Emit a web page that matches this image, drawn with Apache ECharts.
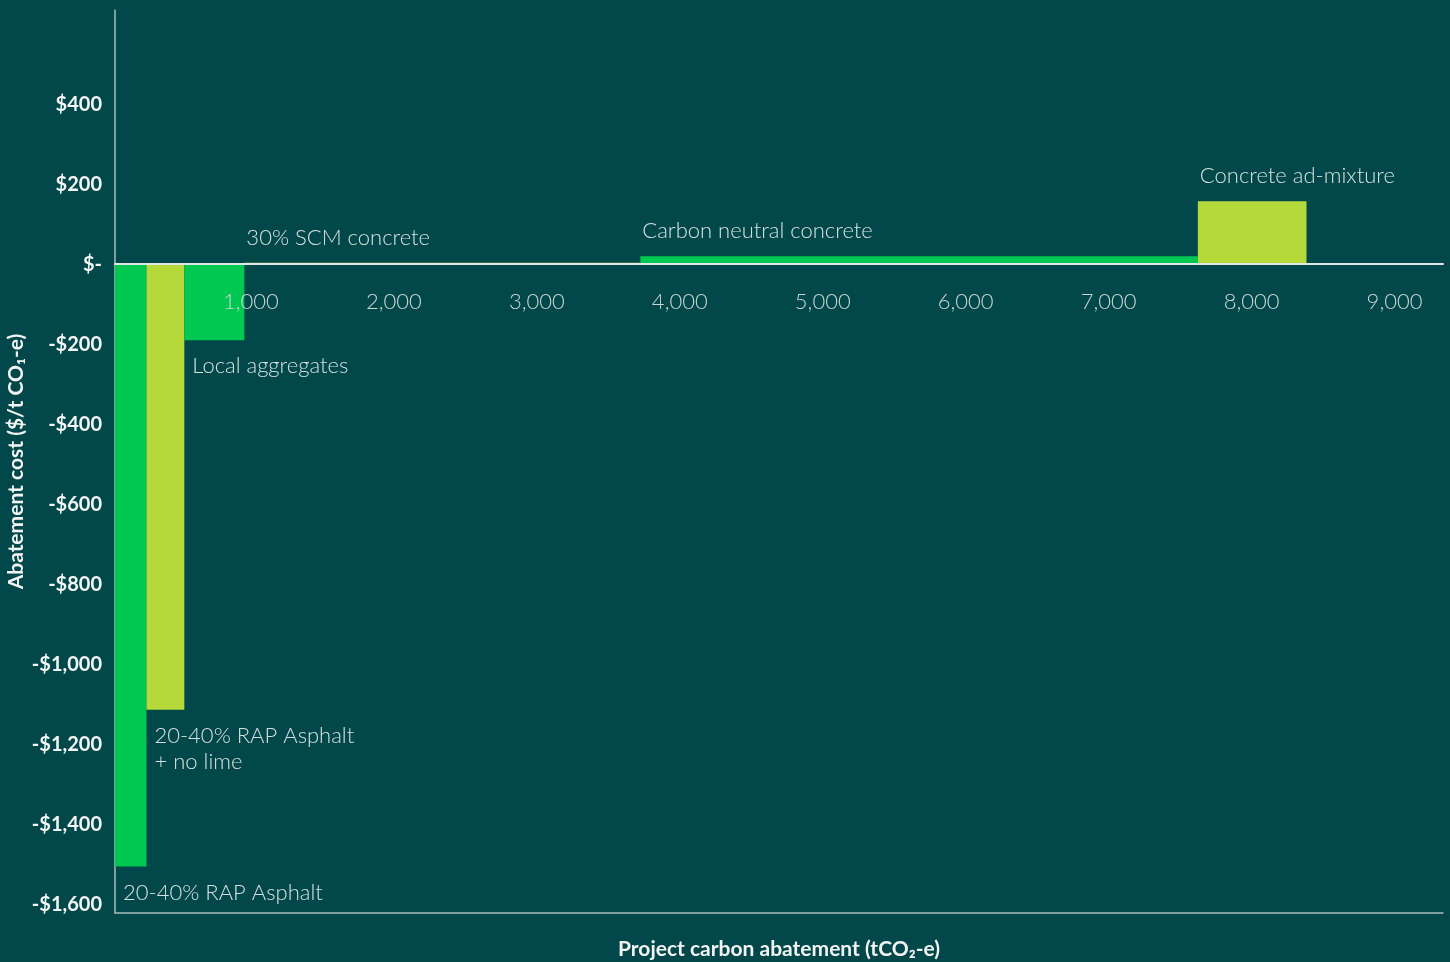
<!DOCTYPE html>
<html>
<head>
<meta charset="utf-8">
<title>Abatement cost curve</title>
<script src="https://cdn.jsdelivr.net/npm/echarts@6/dist/echarts.min.js"></script>
<style>
  html, body { margin: 0; padding: 0; background: #02474a; }
  #chartBox { width: 1450px; height: 962px; }
</style>
</head>
<body>
<div id="chartBox"></div>
<script>
// measures, in order along the curve
var measures = ['20-40% RAP Asphalt', '20-40% RAP Asphalt\n+ no lime', 'Local aggregates', '30% SCM concrete', 'Carbon neutral concrete', 'Concrete ad-mixture'];
// abatement of each measure (tCO2-e) = bar width
var abatement = [220, 265, 420, 2770, 3900, 760];
// abatement cost ($/t) = bar height
var cost = [-1505, -1113, -190, 3, 20, 157];
var barColors = ['#00c851', '#b5d93a', '#00c851', '#b5d93a', '#00c851', '#b5d93a'];
var xTicks = [1000, 2000, 3000, 4000, 5000, 6000, 7000, 8000, 9000];
var yTicks = [-1600, -1400, -1200, -1000, -800, -600, -400, -200, 0, 200, 400];

var font = 'Lato, "Open Sans", sans-serif';
var yMin = -1621, yMax = 635;
var gridTop = 10, gridBottom = 49;

var barData = [];
var start = 0;
for (var i = 0; i < measures.length; i++) {
  barData.push([start, start + abatement[i], cost[i], measures[i]]);
  start += abatement[i];
}

function money(v) {
  if (v === 0) return '$-';
  var s = '$' + Math.abs(v).toLocaleString('en-US');
  return v < 0 ? '-' + s : s;
}

var chart = echarts.init(document.getElementById('chartBox'));
// place the labelled x axis on the zero line (offset from the top edge of the grid)
var plotH = 962 - gridTop - gridBottom;
var zeroOffset = -plotH * yMax / (yMax - yMin);

var option = {
  backgroundColor: '#02474a',
  animation: false,
  grid: { left: 115, right: 7, top: gridTop, bottom: gridBottom, outerBoundsMode: 'none' },
  xAxis: [
    {
      type: 'value',
      position: 'top',
      offset: zeroOffset,
      z: 10,
      min: 0,
      max: 9290,
      axisLine: { onZero: false, lineStyle: { color: '#e2e6e4', width: 2 } },
      axisTick: { show: false },
      splitLine: { show: false },
      axisLabel: {
        inside: true,
        customValues: xTicks,
        margin: 27,
        color: '#c9d8d5',
        fontFamily: font,
        fontWeight: 300,
        fontSize: 22,
        padding: [0, 14, 0, 0],
        formatter: function (v) { return v.toLocaleString('en-US'); }
      }
    },
    {
      type: 'value',
      position: 'bottom',
      min: 0,
      max: 9290,
      axisLine: { onZero: false, lineStyle: { color: '#a9bcb9', width: 1.5 } },
      axisTick: { show: false },
      axisLabel: { show: false },
      splitLine: { show: false },
      name: 'Project carbon abatement (tCO\u2082-e)',
      nameLocation: 'middle',
      nameGap: 26,
      nameTextStyle: { color: '#f2f4f3', fontFamily: font, fontWeight: 'bold', fontSize: 21 }
    }
  ],
  yAxis: {
    type: 'value',
    min: yMin,
    max: yMax,
    axisLine: { show: true, onZero: false, lineStyle: { color: '#a9bcb9', width: 1.5 } },
    axisTick: { show: false },
    splitLine: { show: false },
    axisLabel: {
      customValues: yTicks,
      margin: 13,
      color: '#f4f6f5',
      fontFamily: font,
      fontWeight: 'bold',
      fontSize: 20,
      formatter: money
    },
    name: 'Abatement cost ($/t CO\u2081-e)',
    nameLocation: 'middle',
    nameMoveOverlap: false,
    nameGap: 88,
    nameTextStyle: { color: '#f2f4f3', fontFamily: font, fontWeight: 'bold', fontSize: 21 }
  },
  series: [
    {
      type: 'custom',
      xAxisIndex: 1,
      data: barData,
      encode: { x: [0, 1], y: 2 },
      renderItem: function (params, api) {
        var p0 = api.coord([api.value(0), 0]);
        var p1 = api.coord([api.value(1), api.value(2)]);
        var idx = params.dataIndex;
        var neg = api.value(2) < 0;
        var top = Math.min(p0[1], p1[1]);
        var h = Math.max(Math.abs(p1[1] - p0[1]), 1.5);
        return {
          type: 'group',
          children: [
            {
              type: 'rect',
              shape: { x: p0[0], y: neg ? p0[1] : p0[1] - h, width: p1[0] - p0[0], height: h },
              style: { fill: barColors[idx] }
            },
            {
              type: 'text',
              x: p0[0] + (neg ? 8 : 2),
              y: neg ? p1[1] + 13 : top - 12,
              style: {
                text: measures[idx],
                fill: '#d4e2df',
                font: '300 22px ' + font,
                lineHeight: 26,
                align: 'left',
                verticalAlign: neg ? 'top' : 'bottom'
              }
            }
          ]
        };
      }
    }
  ]
};
chart.setOption(option);
</script>
</body>
</html>
